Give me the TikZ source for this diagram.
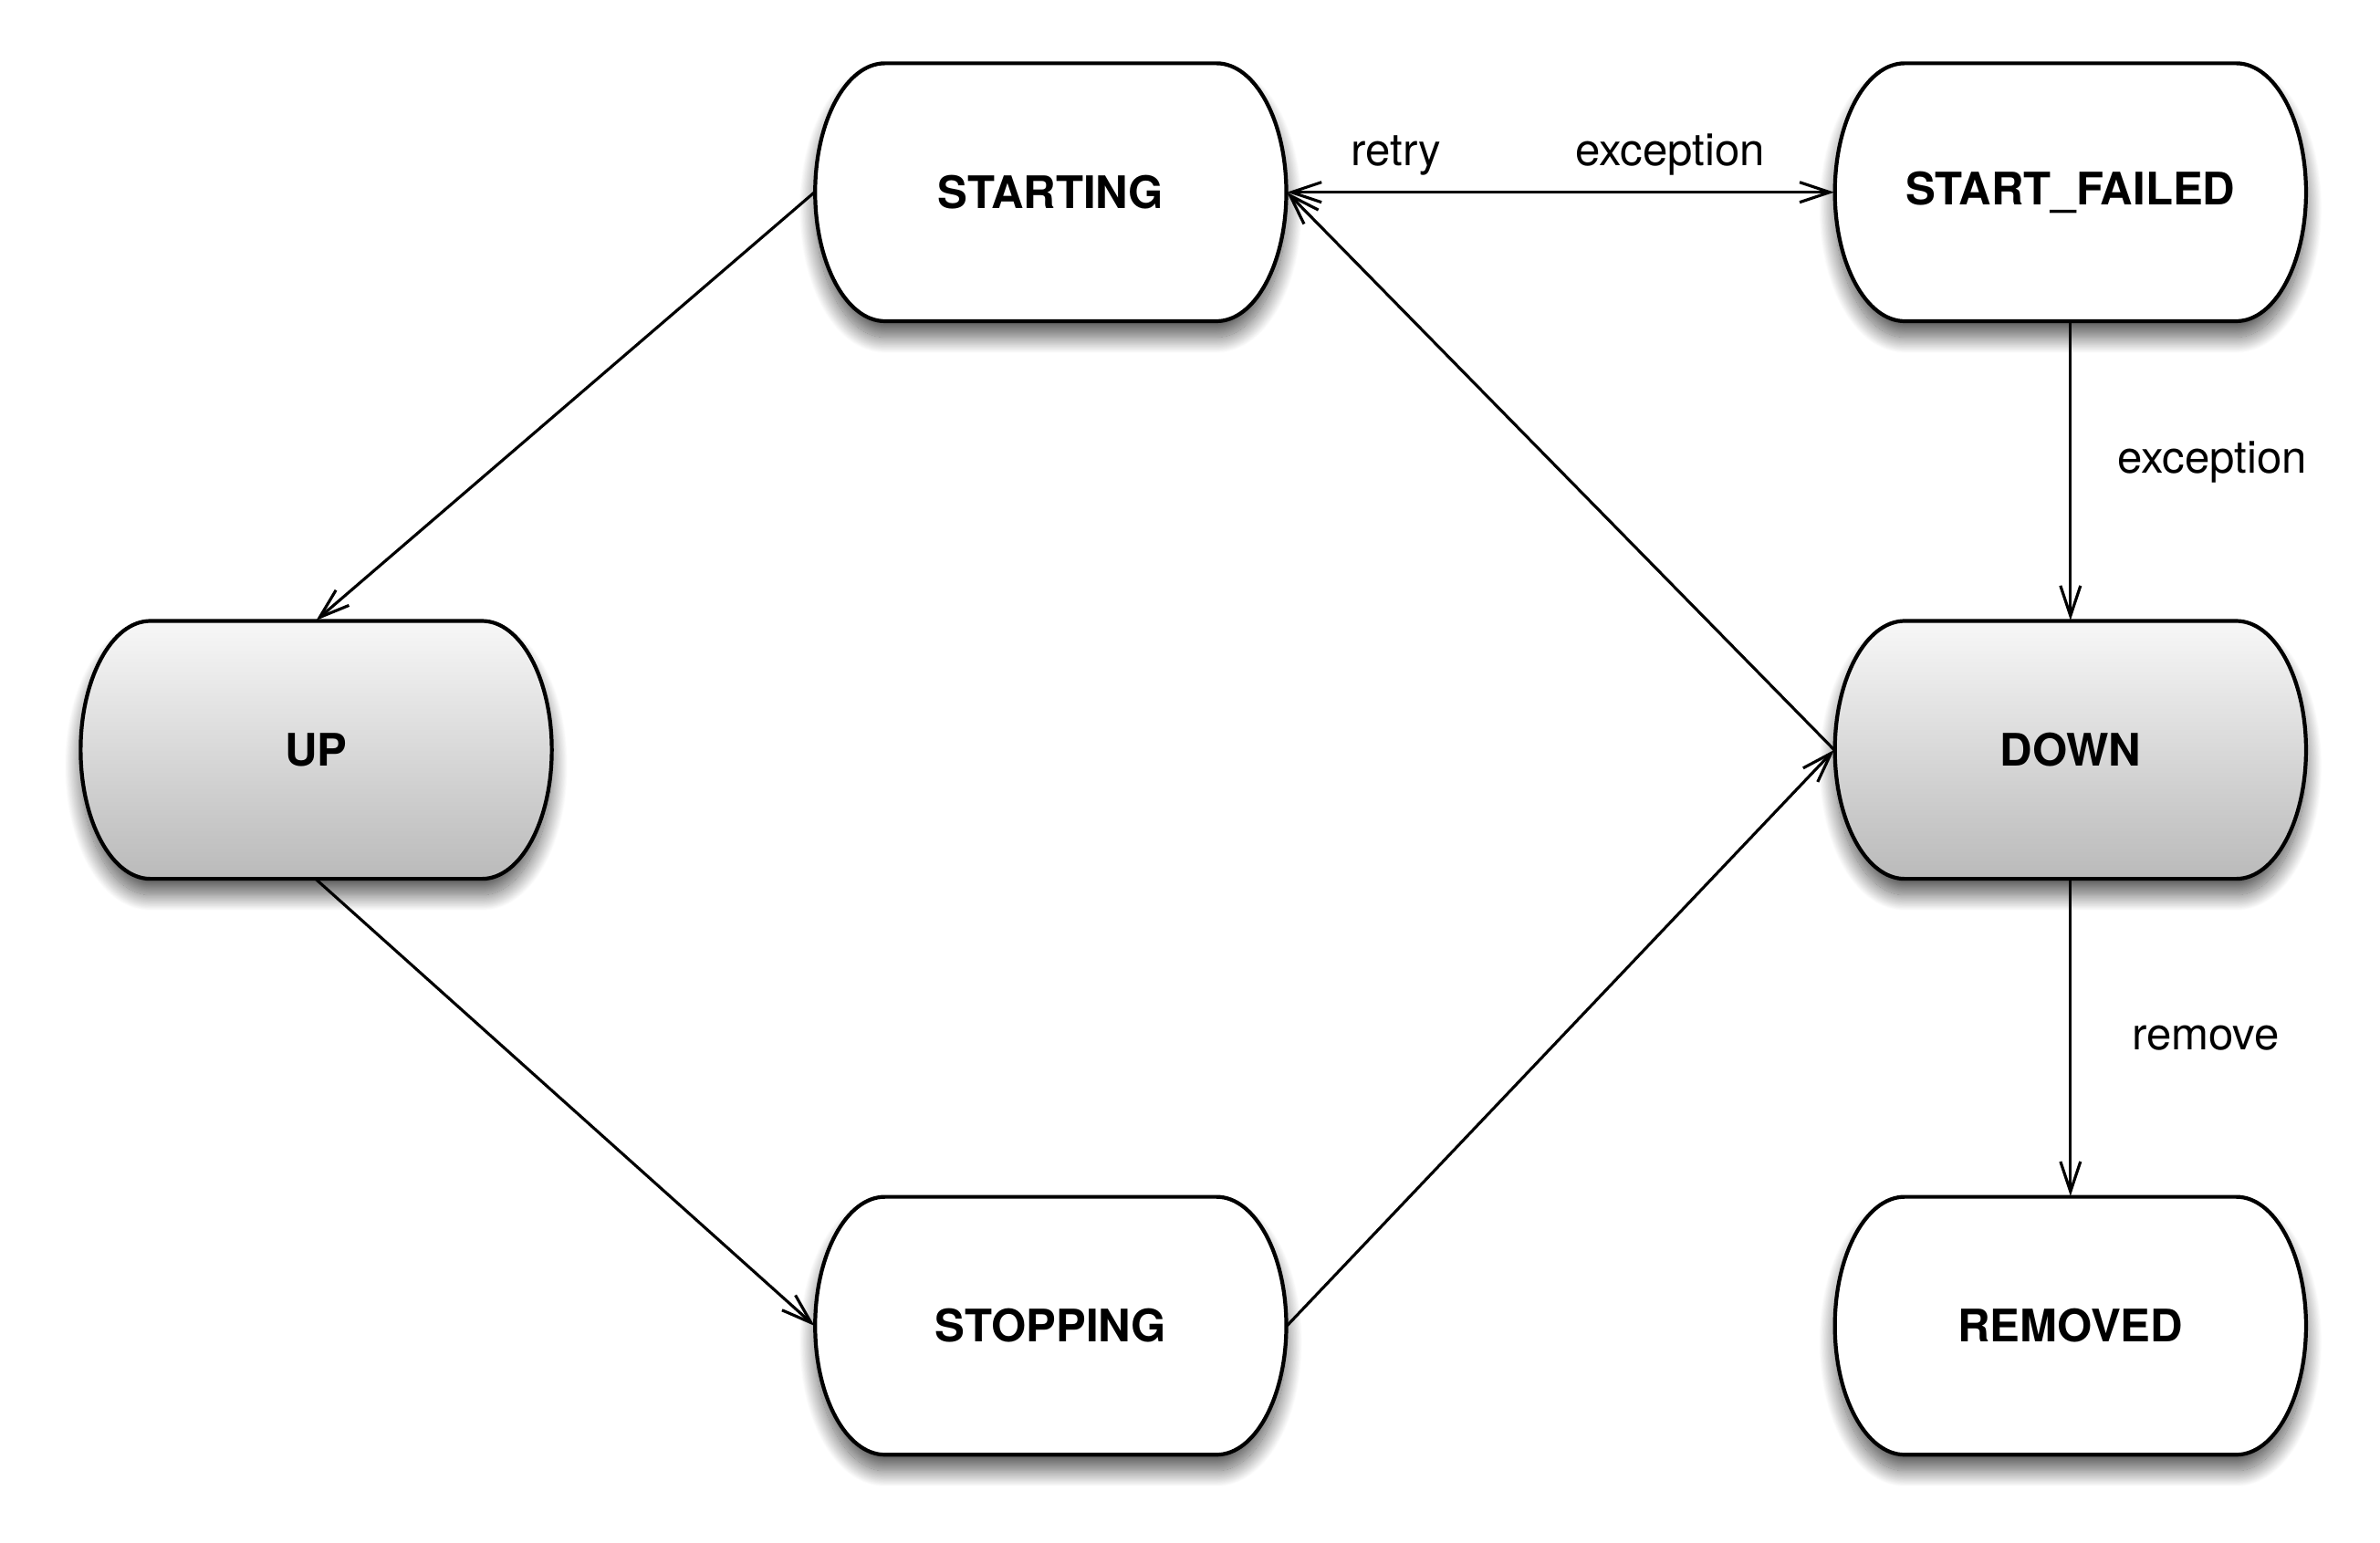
\documentclass[tikz,border=0pt]{standalone}
\usepackage{fontspec}
\setmainfont{TeX Gyre Heros}
\usetikzlibrary{arrows.meta,shadows.blur}
\begin{document}
\begin{tikzpicture}[
		>={Straight Barb[length=0.33cm, width=0.22cm]},
		state/.style={minimum width=5.17cm, minimum height=2.83cm, inner sep=0pt, font=\fontsize{14}{17}\selectfont\bfseries},
		plain/.style={draw, line width=1.2pt, fill=white, blur shadow={shadow xshift=0pt, shadow yshift=-5pt, shadow blur radius=5pt, shadow blur steps=30, shadow opacity=65}},
		shaded/.style={plain, top color=black!3, bottom color=black!27},
		trans/.style={line width=0.9pt, ->},
		lbl/.style={inner sep=0pt, font=\fontsize{14}{17}\selectfont}
	]
	\useasboundingbox (0, -0.076) rectangle (26.117, 16.85);
	
	\foreach \name/\cx/\cy/\lab/\look in {starting/11.53/14.74/STARTING/plain, failed/22.72/14.74/START\_FAILED/plain, up/3.47/8.62/UP/shaded, down/22.72/8.62/DOWN/shaded, stopping/11.53/2.3/STOPPING/plain, removed/22.72/2.3/REMOVED/plain} {
		\path[\look] ({\cx-1.82}, {\cy+1.415}) -- ({\cx+1.82}, {\cy+1.415}) arc[start angle=90, end angle=-90, x radius=0.765, y radius=1.415] -- ({\cx-1.82}, {\cy-1.415}) arc[start angle=270, end angle=90, x radius=0.765, y radius=1.415] -- cycle;
		\node[state] (\name) at (\cx, \cy) {\lab};
	}
	
	\draw[trans] (starting.west) -- (up.north);
	\draw[trans] (up.south) -- (stopping.west);
	\draw[trans] (stopping.east) -- (down.west);
	\draw[trans] (down.west) -- (starting.east);
	\draw[trans, <->] (starting.east) -- node[lbl, pos=0.2, above=0.17cm] (lretry) {retry} node[lbl, pos=0.7, above=0.17cm] (lfail) {exception} (failed.west);
	\draw[trans] (failed.south) -- node[lbl, pos=0.47, right=0.5cm] (ldown) {exception} (down.north);
	\draw[trans] (down.south) -- node[lbl, pos=0.5, right=0.66cm] (lremove) {remove} (removed.north);
\end{tikzpicture}
\end{document}
